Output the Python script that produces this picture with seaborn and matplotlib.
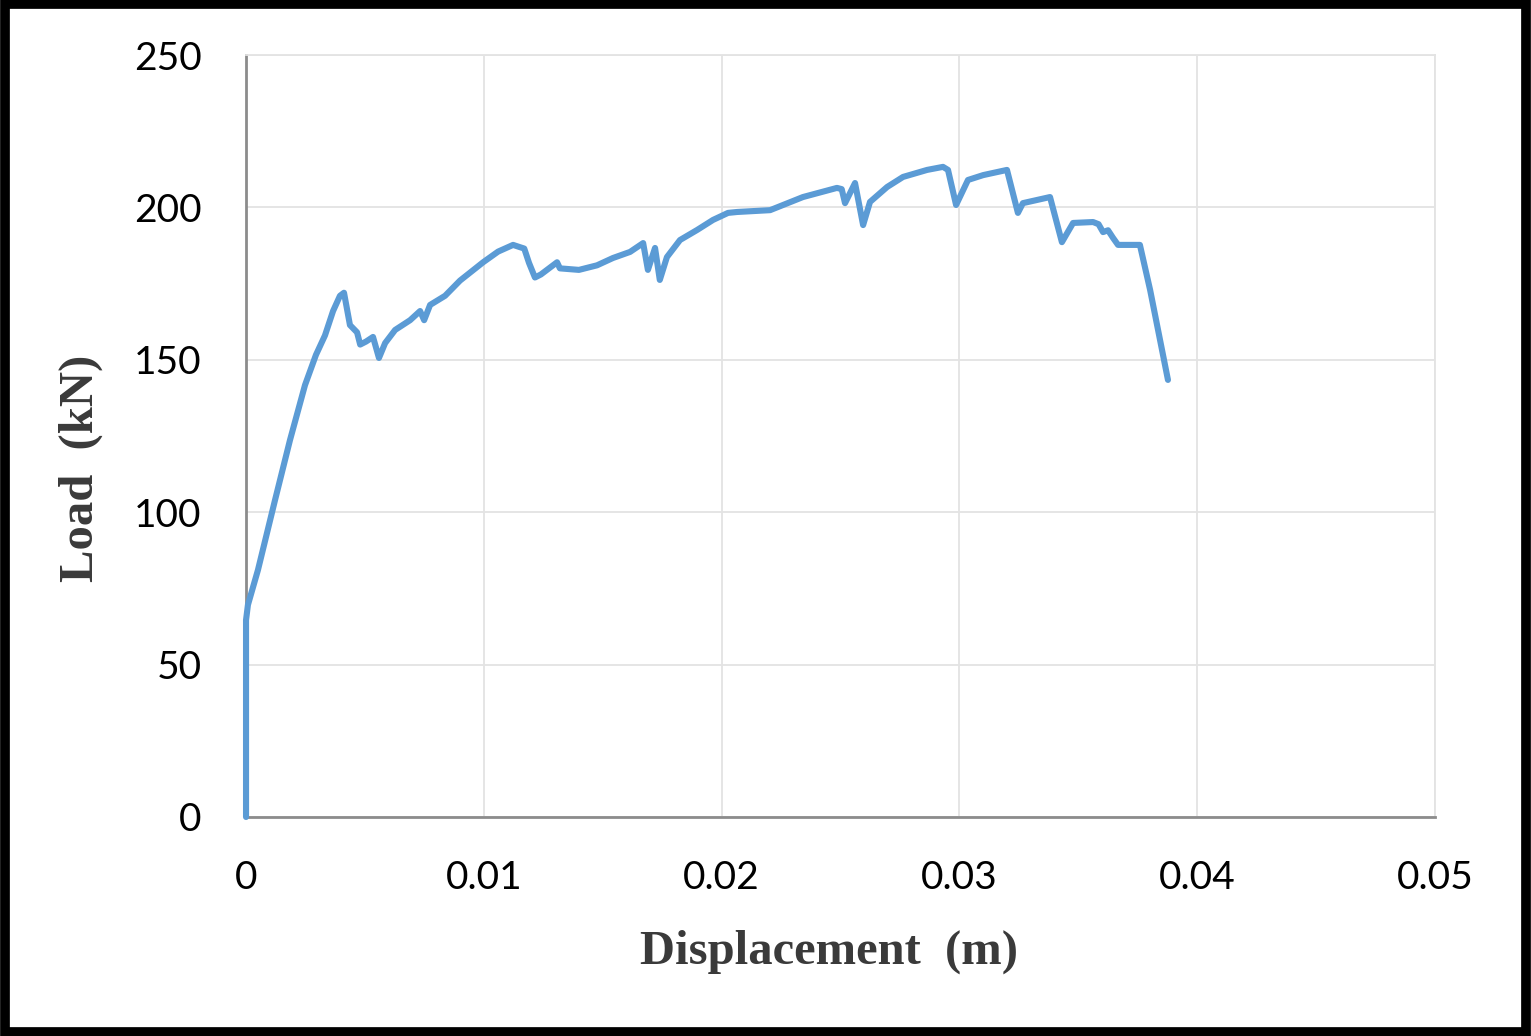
import numpy as np
import pandas as pd
import matplotlib
matplotlib.use("Agg")
import matplotlib.pyplot as plt
import seaborn as sns
from matplotlib.patches import Rectangle

# displacement (m) and load (kN)
displacement = [
    0.0, 0.0, 0.00008, 0.0005, 0.00122, 0.00185, 0.00248, 0.00294, 0.00332,
    0.00366, 0.00395, 0.00412, 0.00437, 0.00467, 0.0048, 0.00505, 0.00534,
    0.00559, 0.00585, 0.00627, 0.0069, 0.00732, 0.00749, 0.00774, 0.00837,
    0.009, 0.00997, 0.0106, 0.01123, 0.0115, 0.0117, 0.0119, 0.01215, 0.0124,
    0.01308, 0.0132, 0.014, 0.01476, 0.01543, 0.01615, 0.0167, 0.0169, 0.0172,
    0.0174, 0.0177, 0.01825, 0.01897, 0.01964, 0.02027, 0.02065, 0.02204,
    0.02342, 0.02485, 0.02505, 0.02519, 0.02561, 0.02595, 0.02624, 0.02696,
    0.02763, 0.02864, 0.02931, 0.02952, 0.02986, 0.03036, 0.031, 0.032,
    0.03246, 0.03267, 0.03381, 0.03431, 0.03478, 0.03562, 0.03585, 0.03604,
    0.03625, 0.03646, 0.03667, 0.03759, 0.03802, 0.03877,
]
load = [
    0.0, 64.6, 69.6, 81.0, 104.0, 123.7, 141.7, 151.6, 158.0,
    166.0, 171.0, 172.0, 161.4, 159.0, 155.0, 156.0, 157.5,
    150.6, 155.5, 159.8, 163.0, 166.0, 163.0, 168.0, 171.0,
    176.0, 182.0, 185.5, 187.7, 187.0, 186.5, 181.8, 177.0, 178.0,
    182.0, 180.0, 179.5, 181.0, 183.4, 185.4, 188.3, 179.5, 186.7,
    176.2, 183.7, 189.3, 192.6, 195.9, 198.2, 198.5, 199.1,
    203.4, 206.4, 206.0, 201.4, 208.0, 194.2, 201.8, 206.7,
    210.0, 212.3, 213.3, 212.3, 200.8, 209.0, 210.6, 212.3,
    198.2, 201.4, 203.4, 188.6, 194.9, 195.2, 194.5, 191.9,
    192.5, 190.0, 187.7, 187.7, 172.9, 143.4,
]

x_ticks = [0, 0.01, 0.02, 0.03, 0.04, 0.05]
x_tick_labels = ["0", "0.01", "0.02", "0.03", "0.04", "0.05"]
y_ticks = [0, 50, 100, 150, 200, 250]

df = pd.DataFrame({"Displacement": displacement, "Load": load})

sns.set_style("white")
plt.rcParams["font.family"] = ["Lato", "DejaVu Sans"]

fig = plt.figure(figsize=(15.31, 10.36), dpi=100)
ax = fig.add_axes([0.1607, 0.2114, 0.9373 - 0.1607, 0.9469 - 0.2114])

sns.lineplot(data=df, x="Displacement", y="Load", sort=False, estimator=None,
             color="#5B9BD5", linewidth=4.4, ax=ax, zorder=5)
for line in ax.lines:
    line.set_clip_on(False)
    line.set_solid_joinstyle("round")
    line.set_solid_capstyle("round")

ax.set_xlim(0, 0.05)
ax.set_ylim(0, 250)
ax.set_xticks(x_ticks)
ax.set_xticklabels(x_tick_labels)
ax.set_yticks(y_ticks)
ax.grid(True, color="#e3e3e3", linewidth=1.3)
ax.set_axisbelow(True)

for side in ["top", "right"]:
    ax.spines[side].set_color("#e3e3e3")
    ax.spines[side].set_linewidth(1.3)
for side in ["left", "bottom"]:
    ax.spines[side].set_color("#8c8c8c")
    ax.spines[side].set_linewidth(2)

ax.tick_params(axis="both", which="both", direction="out", length=10,
               width=2, color="#8c8c8c", labelsize=28, labelcolor="black")
ax.tick_params(axis="x", pad=21)
ax.tick_params(axis="y", pad=22)

ax.set_xlabel("Displacement  (m)", family="Liberation Serif",
              fontweight="bold", fontsize=35, color="#3a3a3a", labelpad=24)
ax.set_ylabel("Load  (kN)", family="Liberation Serif",
              fontweight="bold", fontsize=35, color="#3a3a3a", labelpad=22)
ax.xaxis.label.set_x(0.49)
ax.yaxis.label.set_y(0.457)

# black frame around the whole picture
fig.patches.append(Rectangle((0.003, 0.004), 0.994, 0.992, transform=fig.transFigure,
                             fill=False, edgecolor="black", linewidth=7))

fig.savefig("out.png", dpi=100)
